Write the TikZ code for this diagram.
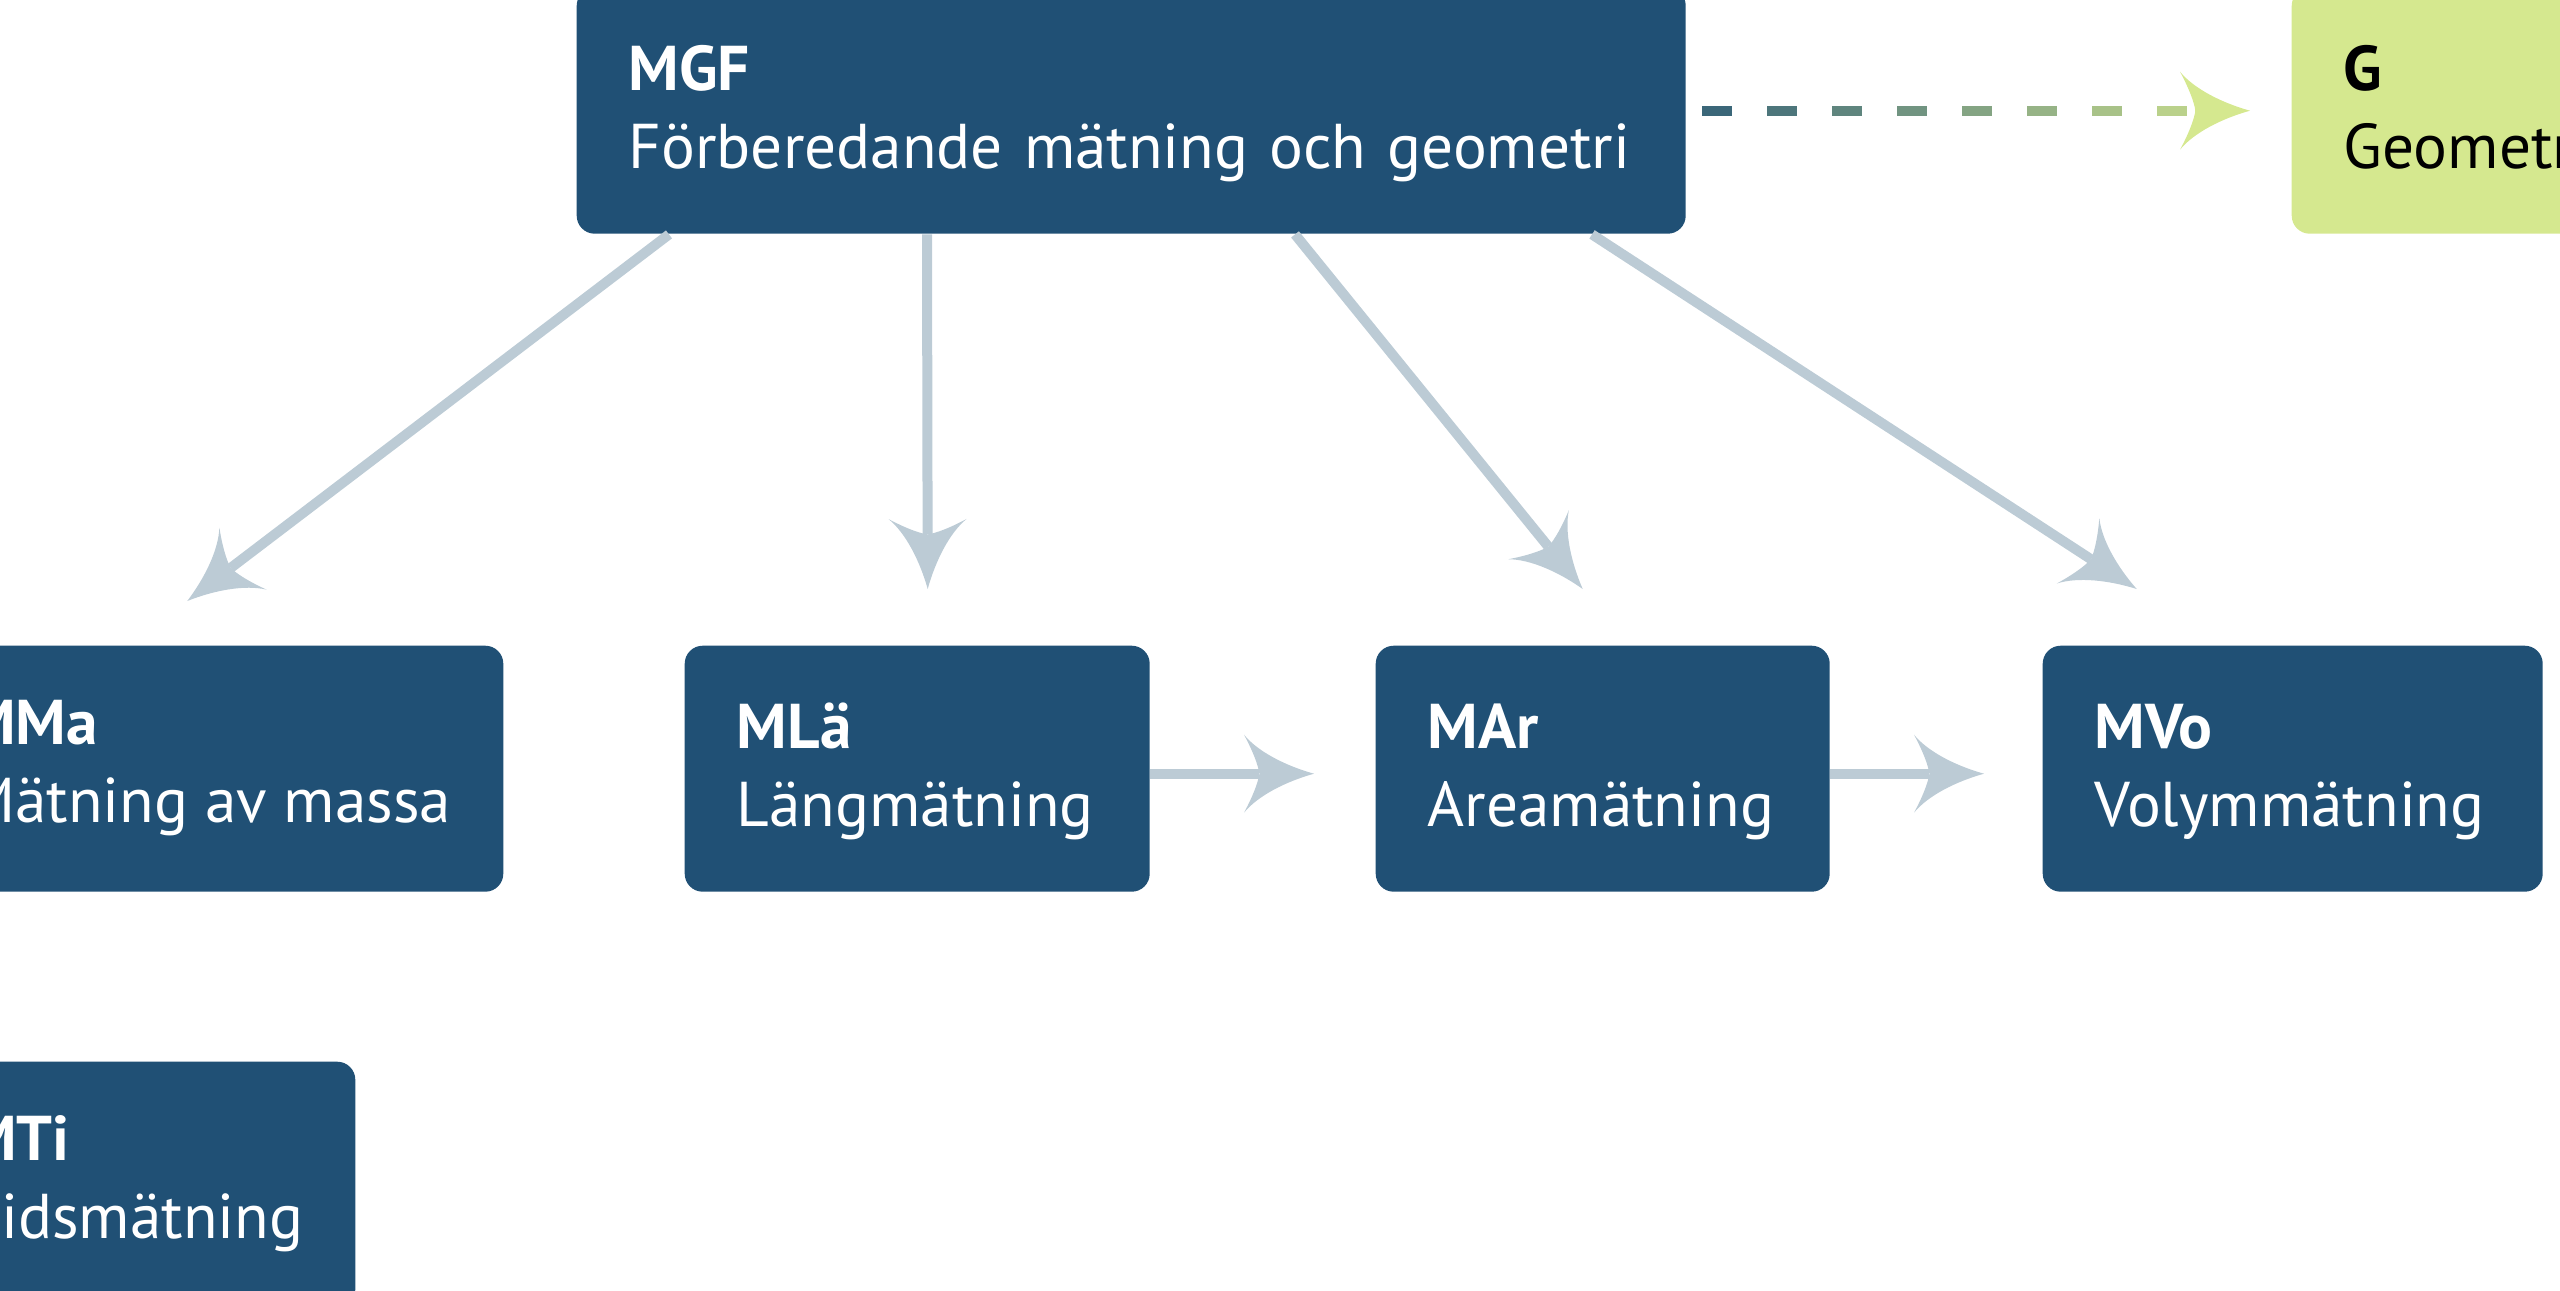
\documentclass[tikz,border=0pt]{standalone}
\usepackage{fontspec}
\setmainfont{PT Sans}
\usetikzlibrary{arrows.meta}
\definecolor{boxblue}{RGB}{32,80,117}
\definecolor{arrowgray}{RGB}{188,203,213}
\definecolor{gfill}{RGB}{213,232,143}
\pgfdeclarearrow{
  name = Swept,
  parameters = {\the\pgfarrowlength,\the\pgfarrowwidth},
  setup code = {
    \pgfarrowssettipend{\pgfarrowlength}
    \pgfarrowssetlineend{0.22\pgfarrowlength}
    \pgfarrowssavethe\pgfarrowlength
    \pgfarrowssavethe\pgfarrowwidth
  },
  drawing code = {
    \pgfpathmoveto{\pgfqpoint{\pgfarrowlength}{0pt}}
    \pgfpathcurveto{\pgfqpoint{0.6\pgfarrowlength}{0.1\pgfarrowwidth}}{\pgfqpoint{0.2\pgfarrowlength}{0.28\pgfarrowwidth}}{\pgfqpoint{0pt}{0.5\pgfarrowwidth}}
    \pgfpathcurveto{\pgfqpoint{0.12\pgfarrowlength}{0.3\pgfarrowwidth}}{\pgfqpoint{0.2\pgfarrowlength}{0.12\pgfarrowwidth}}{\pgfqpoint{0.22\pgfarrowlength}{0pt}}
    \pgfpathcurveto{\pgfqpoint{0.2\pgfarrowlength}{-0.12\pgfarrowwidth}}{\pgfqpoint{0.12\pgfarrowlength}{-0.3\pgfarrowwidth}}{\pgfqpoint{0pt}{-0.5\pgfarrowwidth}}
    \pgfpathcurveto{\pgfqpoint{0.2\pgfarrowlength}{-0.28\pgfarrowwidth}}{\pgfqpoint{0.6\pgfarrowlength}{-0.1\pgfarrowwidth}}{\pgfqpoint{\pgfarrowlength}{0pt}}
    \pgfpathclose
    \pgfusepathqfill
  },
  defaults = {length=0.7cm, width=0.78cm}
}
\begin{document}
\begin{tikzpicture}[
    box/.style={rectangle, rounded corners=0.18cm, fill=boxblue, text=white, minimum height=2.46cm,
        inner xsep=0.52cm, inner ysep=0pt, align=left, font=\fontsize{18}{22.2}\selectfont,
        execute at begin node={\rule{0pt}{15pt}}, execute at end node={\rule[-4.2pt]{0pt}{4.2pt}}},
    arr/.style={draw=arrowgray, line width=0.1cm, -{Swept[length=0.7cm, width=0.78cm]}},
    dashseg/.style={line width=0.1cm}]
    \useasboundingbox (0,0) rectangle (25.6,-12.9);
    \node[box, anchor=north west, text width=10.05cm] (mgf) at (5.76,0.13) {\textbf{MGF}\\Förberedande mätning och geometri};
    \node[box, fill=gfill, text=black, anchor=north west, text width=3.96cm] (g) at (22.91,0.13) {\textbf{G}\\Geometri};
    \node[box, anchor=north east] (mma) at (5.04,-6.45) {\textbf{MMa}\\Mätning av massa};
    \node[box, anchor=north west, text width=3.61cm] (mla) at (6.84,-6.45) {\textbf{MLä}\\Längmätning};
    \node[box, anchor=north west, text width=3.50cm] (mar) at (13.75,-6.45) {\textbf{MAr}\\Areamätning};
    \node[box, anchor=north west, text width=3.96cm] (mvo) at (20.42,-6.45) {\textbf{MVo}\\Volymmätning};
    \node[box, anchor=north east] (mti) at (3.56,-10.61) {\textbf{MTi}\\Tidsmätning};
    \draw[arr] ([xshift=0.93cm]mgf.south west) -- ([xshift=-0.21cm,yshift=0.44cm]mma.north);
    \draw[arr] ([xshift=3.51cm]mgf.south west) -- ([xshift=0.105cm,yshift=0.56cm]mla.north);
    \draw[arr] ([xshift=7.19cm]mgf.south west) -- ([xshift=-0.20cm,yshift=0.56cm]mar.north);
    \draw[arr] ([xshift=10.16cm]mgf.south west) -- ([xshift=-1.56cm,yshift=0.56cm]mvo.north);
    \draw[arr] ([yshift=-0.05cm]mla.east) -- ([xshift=-0.61cm,yshift=-0.05cm]mar.west);
    \draw[arr] ([yshift=-0.05cm]mar.east) -- ([xshift=-0.58cm,yshift=-0.05cm]mvo.west);
    \foreach \i in {0,...,7}{
        \pgfmathtruncatemacro{\p}{85-10*\i}
        \draw[dashseg, draw=boxblue!\p!gfill] ([xshift=0.16cm+\i*0.65cm]mgf.east) -- ++(0.3,0);
    }
    \draw[dashseg, draw=gfill, -{Swept[length=0.7cm, width=0.78cm]}] ([xshift=-0.75cm]g.west) -- ([xshift=-0.41cm]g.west);
\end{tikzpicture}
\end{document}
